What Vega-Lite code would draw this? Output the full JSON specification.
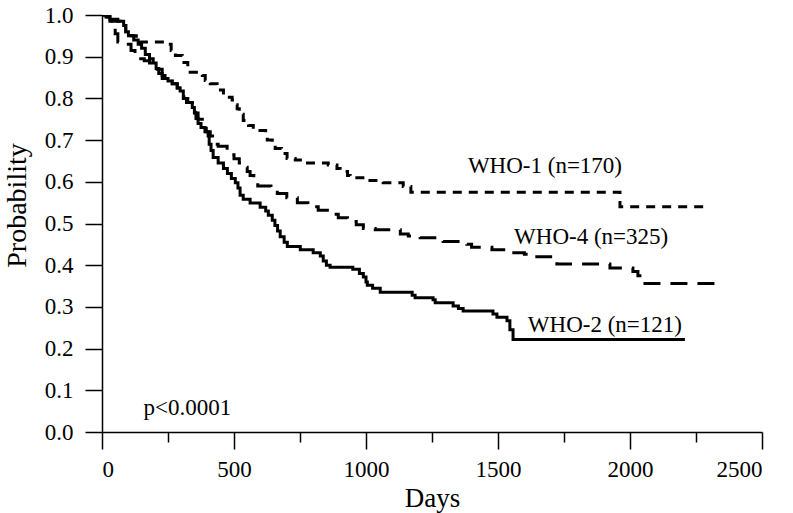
{
  "$schema": "https://vega.github.io/schema/vega-lite/v6.json",
  "width": 660,
  "height": 417,
  "autosize": {"type": "none"},
  "padding": {"left": 102, "top": 15, "right": 31, "bottom": 81},
  "background": "white",
  "config": {
    "view": {"stroke": null},
    "font": "Liberation Serif",
    "axis": {
      "grid": false,
      "domainColor": "black",
      "domainWidth": 1.5,
      "tickColor": "black",
      "tickWidth": 1.5,
      "labelColor": "black",
      "titleColor": "black",
      "labelFont": "Liberation Serif",
      "titleFont": "Liberation Serif",
      "labelFontSize": 23,
      "titleFontSize": 27,
      "titleFontWeight": "normal"
    }
  },
  "datasets": {
    "km": [
      {"group": "WHO-2", "day": 0, "p": 1.0},
      {"group": "WHO-2", "day": 30, "p": 0.99},
      {"group": "WHO-2", "day": 60, "p": 0.985},
      {"group": "WHO-2", "day": 82, "p": 0.975},
      {"group": "WHO-2", "day": 90, "p": 0.96},
      {"group": "WHO-2", "day": 100, "p": 0.95},
      {"group": "WHO-2", "day": 120, "p": 0.94},
      {"group": "WHO-2", "day": 137, "p": 0.93},
      {"group": "WHO-2", "day": 150, "p": 0.92},
      {"group": "WHO-2", "day": 164, "p": 0.905},
      {"group": "WHO-2", "day": 180, "p": 0.895},
      {"group": "WHO-2", "day": 194, "p": 0.885},
      {"group": "WHO-2", "day": 205, "p": 0.872},
      {"group": "WHO-2", "day": 215, "p": 0.86},
      {"group": "WHO-2", "day": 228, "p": 0.848},
      {"group": "WHO-2", "day": 250, "p": 0.842},
      {"group": "WHO-2", "day": 266, "p": 0.835},
      {"group": "WHO-2", "day": 285, "p": 0.825},
      {"group": "WHO-2", "day": 296, "p": 0.818},
      {"group": "WHO-2", "day": 308, "p": 0.8},
      {"group": "WHO-2", "day": 320, "p": 0.79},
      {"group": "WHO-2", "day": 342, "p": 0.778},
      {"group": "WHO-2", "day": 350, "p": 0.765},
      {"group": "WHO-2", "day": 356, "p": 0.752},
      {"group": "WHO-2", "day": 364, "p": 0.74},
      {"group": "WHO-2", "day": 375, "p": 0.73},
      {"group": "WHO-2", "day": 390, "p": 0.72},
      {"group": "WHO-2", "day": 402, "p": 0.71},
      {"group": "WHO-2", "day": 406, "p": 0.69},
      {"group": "WHO-2", "day": 413, "p": 0.675},
      {"group": "WHO-2", "day": 421, "p": 0.658},
      {"group": "WHO-2", "day": 440, "p": 0.645},
      {"group": "WHO-2", "day": 460, "p": 0.632},
      {"group": "WHO-2", "day": 475, "p": 0.62},
      {"group": "WHO-2", "day": 490, "p": 0.608},
      {"group": "WHO-2", "day": 505, "p": 0.598},
      {"group": "WHO-2", "day": 515, "p": 0.585},
      {"group": "WHO-2", "day": 523, "p": 0.568},
      {"group": "WHO-2", "day": 535, "p": 0.558},
      {"group": "WHO-2", "day": 561, "p": 0.549},
      {"group": "WHO-2", "day": 599, "p": 0.539},
      {"group": "WHO-2", "day": 620, "p": 0.53},
      {"group": "WHO-2", "day": 630, "p": 0.52},
      {"group": "WHO-2", "day": 645, "p": 0.508},
      {"group": "WHO-2", "day": 655, "p": 0.495},
      {"group": "WHO-2", "day": 665, "p": 0.482},
      {"group": "WHO-2", "day": 675, "p": 0.468},
      {"group": "WHO-2", "day": 690, "p": 0.455},
      {"group": "WHO-2", "day": 702, "p": 0.445},
      {"group": "WHO-2", "day": 751, "p": 0.437},
      {"group": "WHO-2", "day": 800, "p": 0.43},
      {"group": "WHO-2", "day": 827, "p": 0.422},
      {"group": "WHO-2", "day": 838, "p": 0.41},
      {"group": "WHO-2", "day": 850, "p": 0.4},
      {"group": "WHO-2", "day": 864, "p": 0.395},
      {"group": "WHO-2", "day": 950, "p": 0.39},
      {"group": "WHO-2", "day": 975, "p": 0.38},
      {"group": "WHO-2", "day": 990, "p": 0.372},
      {"group": "WHO-2", "day": 1000, "p": 0.36},
      {"group": "WHO-2", "day": 1005, "p": 0.352},
      {"group": "WHO-2", "day": 1025, "p": 0.345},
      {"group": "WHO-2", "day": 1054, "p": 0.335},
      {"group": "WHO-2", "day": 1175, "p": 0.328},
      {"group": "WHO-2", "day": 1186, "p": 0.322},
      {"group": "WHO-2", "day": 1254, "p": 0.317},
      {"group": "WHO-2", "day": 1262, "p": 0.31},
      {"group": "WHO-2", "day": 1330, "p": 0.302},
      {"group": "WHO-2", "day": 1350, "p": 0.296},
      {"group": "WHO-2", "day": 1368, "p": 0.29},
      {"group": "WHO-2", "day": 1481, "p": 0.283},
      {"group": "WHO-2", "day": 1496, "p": 0.275},
      {"group": "WHO-2", "day": 1534, "p": 0.267},
      {"group": "WHO-2", "day": 1545, "p": 0.245},
      {"group": "WHO-2", "day": 1557, "p": 0.222},
      {"group": "WHO-2", "day": 2208, "p": 0.222},

      {"group": "WHO-4", "day": 0, "p": 1.0},
      {"group": "WHO-4", "day": 15, "p": 0.995},
      {"group": "WHO-4", "day": 30, "p": 0.985},
      {"group": "WHO-4", "day": 40, "p": 0.97},
      {"group": "WHO-4", "day": 50, "p": 0.955},
      {"group": "WHO-4", "day": 60, "p": 0.935},
      {"group": "WHO-4", "day": 90, "p": 0.93},
      {"group": "WHO-4", "day": 110, "p": 0.915},
      {"group": "WHO-4", "day": 125, "p": 0.905},
      {"group": "WHO-4", "day": 140, "p": 0.895},
      {"group": "WHO-4", "day": 160, "p": 0.89},
      {"group": "WHO-4", "day": 180, "p": 0.885},
      {"group": "WHO-4", "day": 194, "p": 0.88},
      {"group": "WHO-4", "day": 209, "p": 0.87},
      {"group": "WHO-4", "day": 228, "p": 0.855},
      {"group": "WHO-4", "day": 250, "p": 0.845},
      {"group": "WHO-4", "day": 266, "p": 0.835},
      {"group": "WHO-4", "day": 285, "p": 0.825},
      {"group": "WHO-4", "day": 300, "p": 0.815},
      {"group": "WHO-4", "day": 310, "p": 0.8},
      {"group": "WHO-4", "day": 325, "p": 0.79},
      {"group": "WHO-4", "day": 342, "p": 0.778},
      {"group": "WHO-4", "day": 353, "p": 0.765},
      {"group": "WHO-4", "day": 364, "p": 0.75},
      {"group": "WHO-4", "day": 380, "p": 0.735},
      {"group": "WHO-4", "day": 395, "p": 0.72},
      {"group": "WHO-4", "day": 410, "p": 0.71},
      {"group": "WHO-4", "day": 425, "p": 0.69},
      {"group": "WHO-4", "day": 440, "p": 0.685},
      {"group": "WHO-4", "day": 474, "p": 0.675},
      {"group": "WHO-4", "day": 490, "p": 0.665},
      {"group": "WHO-4", "day": 500, "p": 0.655},
      {"group": "WHO-4", "day": 520, "p": 0.645},
      {"group": "WHO-4", "day": 535, "p": 0.635},
      {"group": "WHO-4", "day": 550, "p": 0.625},
      {"group": "WHO-4", "day": 561, "p": 0.615},
      {"group": "WHO-4", "day": 575, "p": 0.6},
      {"group": "WHO-4", "day": 590, "p": 0.59},
      {"group": "WHO-4", "day": 640, "p": 0.58},
      {"group": "WHO-4", "day": 664, "p": 0.572},
      {"group": "WHO-4", "day": 700, "p": 0.562},
      {"group": "WHO-4", "day": 740, "p": 0.55},
      {"group": "WHO-4", "day": 780, "p": 0.54},
      {"group": "WHO-4", "day": 819, "p": 0.532},
      {"group": "WHO-4", "day": 860, "p": 0.522},
      {"group": "WHO-4", "day": 895, "p": 0.514},
      {"group": "WHO-4", "day": 930, "p": 0.505},
      {"group": "WHO-4", "day": 963, "p": 0.497},
      {"group": "WHO-4", "day": 990, "p": 0.488},
      {"group": "WHO-4", "day": 1035, "p": 0.485},
      {"group": "WHO-4", "day": 1130, "p": 0.475},
      {"group": "WHO-4", "day": 1160, "p": 0.47},
      {"group": "WHO-4", "day": 1205, "p": 0.466},
      {"group": "WHO-4", "day": 1270, "p": 0.46},
      {"group": "WHO-4", "day": 1292, "p": 0.457},
      {"group": "WHO-4", "day": 1382, "p": 0.45},
      {"group": "WHO-4", "day": 1400, "p": 0.443},
      {"group": "WHO-4", "day": 1477, "p": 0.437},
      {"group": "WHO-4", "day": 1540, "p": 0.43},
      {"group": "WHO-4", "day": 1600, "p": 0.426},
      {"group": "WHO-4", "day": 1647, "p": 0.42},
      {"group": "WHO-4", "day": 1715, "p": 0.41},
      {"group": "WHO-4", "day": 1723, "p": 0.403},
      {"group": "WHO-4", "day": 1924, "p": 0.393},
      {"group": "WHO-4", "day": 2011, "p": 0.385},
      {"group": "WHO-4", "day": 2030, "p": 0.375},
      {"group": "WHO-4", "day": 2045, "p": 0.356},
      {"group": "WHO-4", "day": 2321, "p": 0.356},

      {"group": "WHO-1", "day": 0, "p": 1.0},
      {"group": "WHO-1", "day": 20, "p": 0.995},
      {"group": "WHO-1", "day": 40, "p": 0.985},
      {"group": "WHO-1", "day": 70, "p": 0.975},
      {"group": "WHO-1", "day": 90, "p": 0.96},
      {"group": "WHO-1", "day": 110, "p": 0.95},
      {"group": "WHO-1", "day": 130, "p": 0.94},
      {"group": "WHO-1", "day": 145, "p": 0.935},
      {"group": "WHO-1", "day": 250, "p": 0.93},
      {"group": "WHO-1", "day": 262, "p": 0.915},
      {"group": "WHO-1", "day": 278, "p": 0.903},
      {"group": "WHO-1", "day": 304, "p": 0.886},
      {"group": "WHO-1", "day": 325, "p": 0.87},
      {"group": "WHO-1", "day": 334, "p": 0.863},
      {"group": "WHO-1", "day": 380, "p": 0.855},
      {"group": "WHO-1", "day": 391, "p": 0.843},
      {"group": "WHO-1", "day": 410, "p": 0.835},
      {"group": "WHO-1", "day": 436, "p": 0.82},
      {"group": "WHO-1", "day": 460, "p": 0.803},
      {"group": "WHO-1", "day": 493, "p": 0.796},
      {"group": "WHO-1", "day": 505, "p": 0.785},
      {"group": "WHO-1", "day": 512, "p": 0.775},
      {"group": "WHO-1", "day": 520, "p": 0.762},
      {"group": "WHO-1", "day": 535, "p": 0.747},
      {"group": "WHO-1", "day": 555, "p": 0.735},
      {"group": "WHO-1", "day": 573, "p": 0.723},
      {"group": "WHO-1", "day": 620, "p": 0.715},
      {"group": "WHO-1", "day": 626, "p": 0.7},
      {"group": "WHO-1", "day": 645, "p": 0.69},
      {"group": "WHO-1", "day": 656, "p": 0.68},
      {"group": "WHO-1", "day": 680, "p": 0.668},
      {"group": "WHO-1", "day": 701, "p": 0.656},
      {"group": "WHO-1", "day": 732, "p": 0.652},
      {"group": "WHO-1", "day": 763, "p": 0.645},
      {"group": "WHO-1", "day": 857, "p": 0.64},
      {"group": "WHO-1", "day": 890, "p": 0.632},
      {"group": "WHO-1", "day": 902, "p": 0.625},
      {"group": "WHO-1", "day": 930, "p": 0.615},
      {"group": "WHO-1", "day": 940, "p": 0.61},
      {"group": "WHO-1", "day": 997, "p": 0.603},
      {"group": "WHO-1", "day": 1065, "p": 0.598},
      {"group": "WHO-1", "day": 1141, "p": 0.589},
      {"group": "WHO-1", "day": 1170, "p": 0.575},
      {"group": "WHO-1", "day": 1962, "p": 0.54},
      {"group": "WHO-1", "day": 2283, "p": 0.54}
    ],
    "labels": [
      {"label": "WHO-1 (n=170)", "day": 1386, "p": 0.62},
      {"label": "WHO-4 (n=325)", "day": 1561, "p": 0.45},
      {"label": "WHO-2 (n=121)", "day": 1613, "p": 0.239},
      {"label": "p<0.0001", "day": 157, "p": 0.04}
    ]
  },
  "layer": [
    {
      "data": {"name": "km"},
      "mark": {"type": "line", "interpolate": "step-after", "strokeWidth": 3, "color": "black", "clip": true},
      "encoding": {
        "x": {
          "field": "day",
          "type": "quantitative",
          "scale": {"domain": [0, 2500], "nice": false},
          "axis": {
            "title": "Days",
            "values": [0, 250, 500, 750, 1000, 1250, 1500, 1750, 2000, 2250, 2500],
            "format": "d",
            "labelExpr": "datum.value % 500 === 0 ? datum.label : ''",
            "tickSize": {"condition": {"test": "datum.value % 500 === 0", "value": 17}, "value": 10},
            "labelPadding": 9,
            "titlePadding": 4
          }
        },
        "y": {
          "field": "p",
          "type": "quantitative",
          "scale": {"domain": [0, 1], "nice": false},
          "axis": {
            "title": "Probability",
            "values": [0, 0.1, 0.2, 0.3, 0.4, 0.5, 0.6, 0.7, 0.8, 0.9, 1.0],
            "format": ".1f",
            "tickSize": 17,
            "labelPadding": 12,
            "titlePadding": 13,
            "titleFontSize": 28,
            "titleY": 190
          }
        },
        "strokeDash": {
          "field": "group",
          "type": "nominal",
          "scale": {"domain": ["WHO-1", "WHO-2", "WHO-4"], "range": [[9, 7], [1, 0], [17, 10]]},
          "legend": null
        }
      }
    },
    {
      "data": {"name": "labels"},
      "mark": {"type": "text", "align": "left", "baseline": "alphabetic", "fontSize": 23, "font": "Liberation Serif", "color": "black"},
      "encoding": {
        "x": {"field": "day", "type": "quantitative"},
        "y": {"field": "p", "type": "quantitative"},
        "text": {"field": "label", "type": "nominal"}
      }
    }
  ]
}
